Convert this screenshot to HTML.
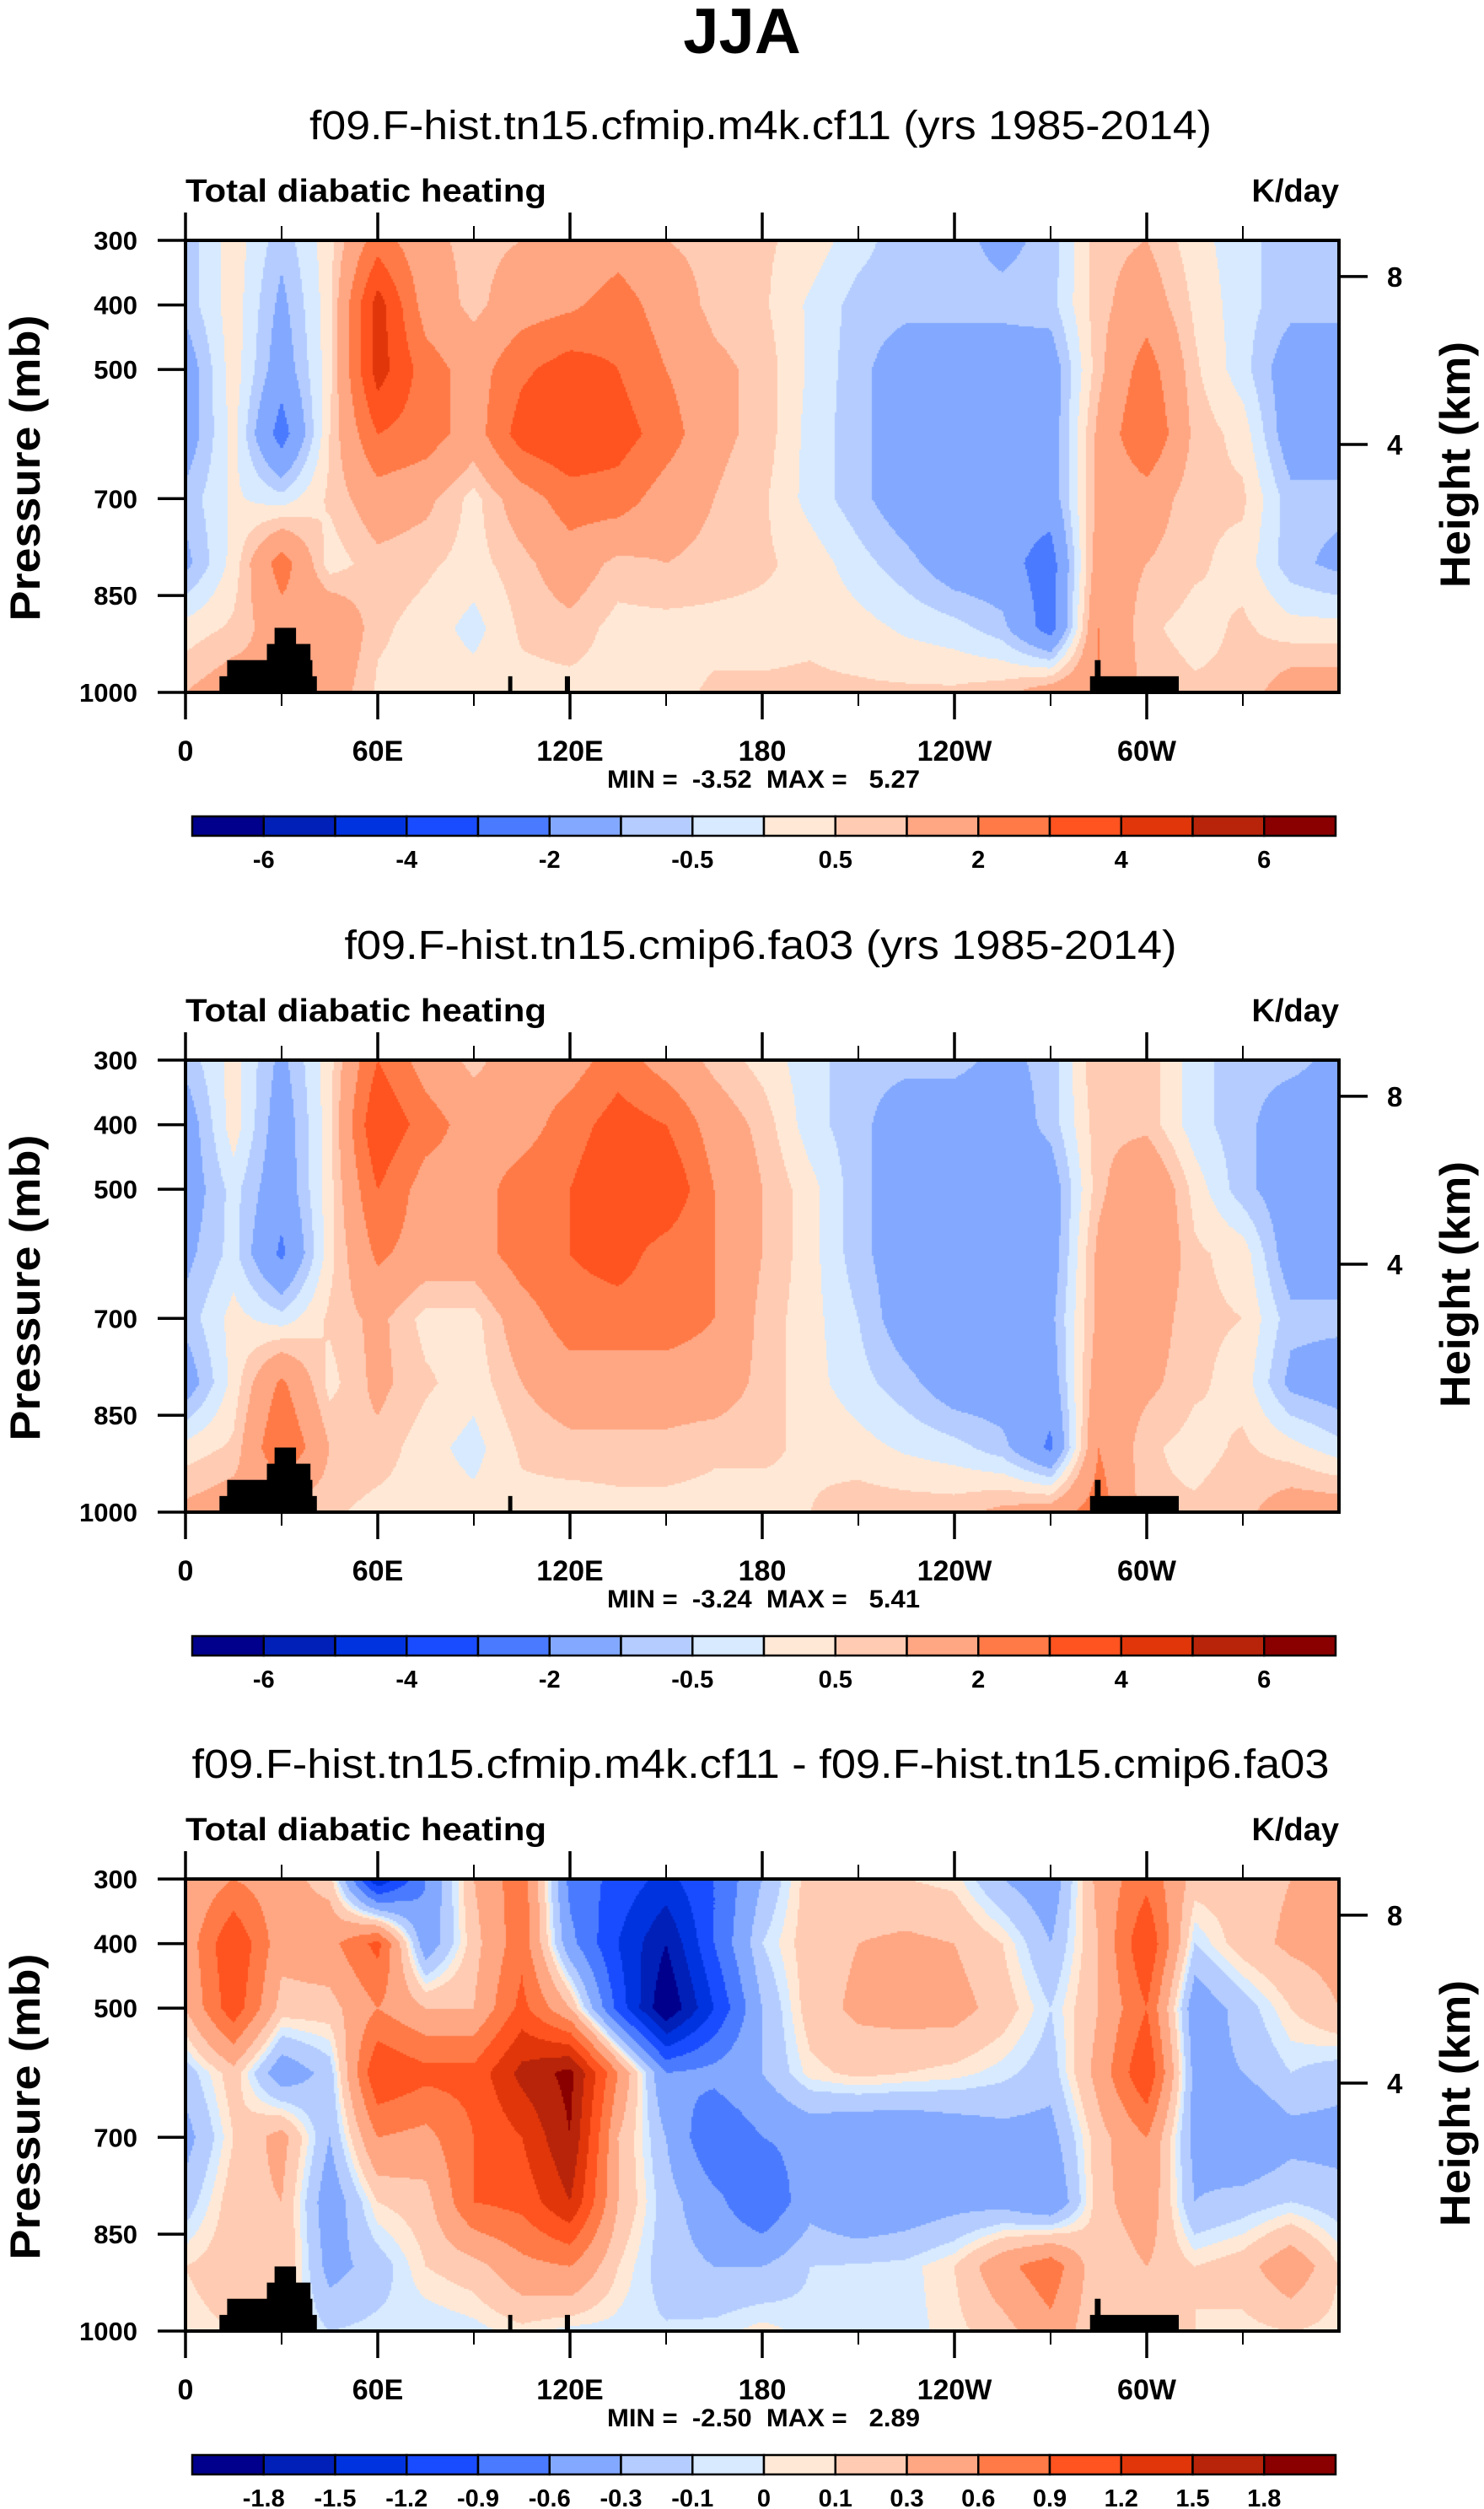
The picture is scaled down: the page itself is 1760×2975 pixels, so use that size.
<!DOCTYPE html>
<html><head><meta charset="utf-8">
<style>
html,body{margin:0;padding:0;background:#fff;}
#wrap{position:relative;width:1760px;height:2975px;overflow:hidden;background:#fff;}
canvas{position:absolute;}
svg{position:absolute;left:0;top:0;}
text{font-family:"Liberation Sans",Arial,sans-serif;fill:#000;}
</style></head>
<body>
<div id="wrap">
<canvas id="c0" width="1368" height="536" style="left:220px;top:285px"></canvas>
<canvas id="c1" width="1368" height="536" style="left:220px;top:1257px"></canvas>
<canvas id="c2" width="1368" height="536" style="left:220px;top:2228px"></canvas>
<svg id="svg" width="1760" height="2975" xmlns="http://www.w3.org/2000/svg">
<text x="880" y="63" text-anchor="middle" font-size="76" font-weight="bold">JJA</text>
</svg>
</div>
<script>
// ---- data ----
const lons = [0,15,30,45,60,75,90,105,120,135,150,165,180,195,210,225,240,255,270,285,300,315,330,345,360];
const levels = [300,400,500,600,700,800,900,1000];
const p1 = [
[-0.8,0.3,-0.8,0.3,2.5,1.2,0.8,1.0,1.0,1.5,1.0,0.8,0.6,0.3,-0.3,-0.8,-0.8,-1.2,-0.8,0.8,1.0,0.2,-0.3,-0.8,-0.8],
[-0.8,0.3,-1.2,0.3,4.5,1.5,0.8,1.5,1.8,2.5,1.5,0.8,0.6,-0.1,-0.7,-0.8,-0.8,-0.8,-0.7,0.8,1.5,0.4,-0.3,-0.8,-0.8],
[-1.5,0.3,-1.5,0.3,4.5,2.5,1.5,2.8,3.5,3.0,2.0,1.2,0.8,-0.1,-0.8,-1.5,-1.5,-1.5,-1.5,0.8,2.5,0.6,-0.3,-1.5,-1.5],
[-1.5,0.2,-2.5,0.5,3.0,2.5,1.5,3.5,4.0,3.5,2.5,1.2,0.8,-0.2,-0.8,-1.5,-1.5,-1.5,-1.5,1.2,3.0,0.8,0.3,-1.5,-1.5],
[-0.8,0.1,-0.3,0.6,1.5,1.2,0.3,1.5,2.5,2.5,1.5,1.0,0.6,-0.2,-0.8,-1.5,-1.5,-1.5,-1.5,1.2,1.5,0.6,0.6,-0.8,-0.8],
[-1.2,0.2,2.5,0.2,0.8,0.6,0.3,0.8,1.5,0.8,1.0,0.8,0.6,0.3,-0.3,-0.8,-1.5,-1.6,-2.5,1.5,1.0,0.6,0.3,-0.8,-1.2],
[0.2,0.6,1.5,2.0,0.6,0.3,-0.2,0.6,0.8,0.3,0.3,0.3,0.3,0.4,0.2,-0.1,-0.3,-0.8,-2.5,2.0,0.6,0.3,0.6,0.2,0.2],
[1.0,1.5,1.0,1.5,0.4,0.3,0.3,0.3,0.3,0.3,0.3,0.6,0.6,0.6,0.6,0.6,0.6,0.8,1.5,2.0,0.8,0.6,0.6,1.5,1.5]];
const p2 = [
[-0.8,0.2,-1.2,0.3,3.0,1.5,0.8,1.5,1.5,2.5,1.5,0.8,0.3,-0.3,-0.8,-0.8,-0.8,-1.2,-0.8,1.0,0.8,-0.3,-0.8,-0.8,-1.2],
[-1.5,0.3,-1.5,0.3,4.0,2.5,1.5,1.5,2.5,3.5,3.0,1.5,0.8,-0.3,-0.8,-1.5,-1.5,-1.5,-0.8,0.8,0.8,-0.3,-0.8,-1.5,-1.5],
[-1.5,-0.3,-1.6,0.3,3.0,1.5,1.5,2.5,3.0,4.0,4.0,2.0,1.0,0.2,-0.8,-1.5,-1.5,-1.5,-1.5,0.8,2.0,0.3,-0.8,-1.5,-1.5],
[-1.2,-0.3,-2.2,0.3,2.2,1.5,1.5,2.5,3.0,3.5,2.5,2.0,1.0,0.2,-0.8,-1.5,-1.5,-1.5,-1.5,1.2,2.0,0.6,0.3,-1.5,-1.5],
[-0.8,0.2,-0.3,0.6,1.2,0.3,0.3,1.5,2.5,2.5,2.5,2.0,0.8,0.2,-0.5,-1.5,-1.5,-1.5,-1.2,1.2,1.5,0.6,0.5,-0.8,-0.8],
[-1.5,0.2,2.2,0.3,1.2,0.6,0.2,1.0,1.5,1.5,1.5,1.5,0.8,0.2,-0.3,-0.8,-1.5,-1.5,-1.5,1.5,1.2,0.6,0.3,-1.2,-1.5],
[0.2,0.6,3.0,1.0,0.8,0.2,-0.2,0.6,0.8,0.8,0.8,0.6,0.6,0.4,0.2,-0.1,-0.3,-0.8,-2.2,2.0,0.6,0.3,0.6,0.2,-0.3],
[1.2,1.5,0.6,0.6,0.3,0.3,0.2,0.3,0.2,0.3,0.3,0.3,0.3,0.5,0.8,0.8,0.8,1.2,1.5,2.5,0.6,0.6,0.8,1.5,1.5]];
const p3 = [
[0.3,0.6,0.4,0.2,-1.5,-0.6,0.3,0.8,-0.7,-1.0,-1.3,-0.9,-0.3,0.2,0.15,0.1,0.05,-0.3,-0.5,0.4,0.8,0.2,0.2,0.3,0.3],
[0.4,1.2,0.4,0.5,1.0,-0.5,0.2,0.8,-0.5,-1.2,-1.8,-0.9,-0.1,0.2,0.3,0.35,0.3,0.1,-0.3,0.3,1.2,-0.1,0.2,0.35,0.4],
[0.3,1.1,0.2,0.2,0.6,0.3,0.3,1.0,0.3,-1.0,-2.1,-1.2,-0.3,0.2,0.35,0.4,0.4,0.2,-0.1,0.3,0.9,-0.5,-0.2,0.1,0.3],
[-0.2,0.2,-0.5,-0.2,1.2,1.0,1.0,1.6,1.9,0.6,-0.6,-0.5,-0.3,0.05,0.15,0.1,0.05,-0.05,-0.2,0.4,1.2,-0.4,-0.3,-0.1,-0.2],
[-0.4,0.1,0.4,-0.3,0.6,0.5,0.9,1.2,1.8,0.3,-0.3,-0.9,-0.6,-0.5,-0.6,-0.6,-0.5,-0.4,-0.4,0.2,0.6,-0.4,-0.6,-0.4,-0.4],
[-0.2,0.2,0.3,-0.5,0.1,0.2,0.9,1.0,1.5,0.3,-0.2,-0.5,-0.9,-0.4,-0.6,-0.5,-0.4,-0.4,-0.6,0.2,0.5,-0.3,-0.2,-0.1,-0.2],
[0.1,0.2,0.3,-0.4,-0.2,0.1,0.2,0.5,0.6,0.1,-0.2,-0.3,-0.3,-0.1,-0.08,-0.05,0.1,0.5,0.8,0.1,0.3,0.1,0.2,0.5,0.1],
[0.05,0.1,0.1,-0.1,-0.05,-0.1,-0.05,0.05,-0.05,-0.05,-0.08,-0.05,0.05,-0.05,-0.05,-0.05,0.05,0.2,0.5,0.1,0.2,0.1,0.05,0.1,0.05]];
const bounds12 = [-6,-5,-4,-3,-2,-1,-0.5,0,0.5,1,2,3,4,5,6];
const bounds3 = [-1.8,-1.5,-1.2,-0.9,-0.6,-0.3,-0.1,0,0.1,0.3,0.6,0.9,1.2,1.5,1.8];
const cbLabels12 = ["","-6","","-4","","-2","","-0.5","","0.5","","2","","4","","6"];
const cbLabels3 = ["","-1.8","-1.5","-1.2","-0.9","-0.6","-0.3","-0.1","0","0.1","0.3","0.6","0.9","1.2","1.5","1.8"];
const palette = ["#00008c","#0020b8","#0033e0","#1a4cff","#4a7aff","#82a8ff","#b4ccff","#d7eaff","#ffe9d6","#ffcbb2","#ffa683","#ff7a46","#ff5320","#e0360a","#b8240a","#8a0000"];
const lonTicks = [0,60,120,180,240,300];
const lonTickLabels = ["0","60E","120E","180","120W","60W"];
const lonMinor = [30,90,150,210,270,330];
const pTicks = [300,400,500,700,850,1000];
const hTicks = [8,4];
const hTickP = [356,616];
// topography blocks: [lonStart, lonEnd, pTop]
const topoLon0 = [10.6,13,25.4,27.8,100.7,118.4,282.3,283.8];
const topoLon1 = [41,39.6,39,34.5,102,120,310,285.6];
const topoP = [975,950,925,900,975,975,975,950];
const subtitles = ["f09.F-hist.tn15.cfmip.m4k.cf11 (yrs 1985-2014)","f09.F-hist.tn15.cmip6.fa03 (yrs 1985-2014)","f09.F-hist.tn15.cfmip.m4k.cf11 - f09.F-hist.tn15.cmip6.fa03"];
const subtitleWidths = [1070,987,1349];
const minVals = ["-3.52","-3.24","-2.50"];
const maxVals = ["5.27","5.41","2.89"];

// ---- geometry ----
const X0=220, X1=1588, PH=536;
const offs=[0,972,1943];
function xOf(lon){return X0+lon/360*(X1-X0);}
function yOf(p,off){return 285+off+(p-300)/700*PH;}
const NS='http://www.w3.org/2000/svg';
const svg=document.getElementById('svg');
function mk(tag,attrs,parent){const e=document.createElementNS(NS,tag);for(const k in attrs)e.setAttribute(k,attrs[k]);(parent||svg).appendChild(e);return e;}

function field(grid,lon,p){
  let i=Math.min(lons.length-2,Math.floor(lon/15)); let fx=(lon-lons[i])/15;
  let j=0; while(j<levels.length-2 && p>levels[j+1]) j++;
  let fy=(p-levels[j])/(levels[j+1]-levels[j]);
  const a=grid[j][i],b=grid[j][i+1],c=grid[j+1][i],d=grid[j+1][i+1];
  return (a*(1-fx)+b*fx)*(1-fy)+(c*(1-fx)+d*fx)*fy;
}
function colorIdx(v,b){let k=0;while(k<b.length&&v>=b[k])k++;return k;}

const grids=[p1,p2,p3];
[0,1,2].forEach(pi=>{
  const cv=document.getElementById('c'+pi), ctx=cv.getContext('2d');
  const g=grids[pi], b=pi<2?bounds12:bounds3;
  const W=cv.width,H=cv.height, s=2;
  for(let y=0;y<H;y+=s){for(let x=0;x<W;x+=s){
    const lon=(x+s/2)/W*360, p=300+(y+s/2)/H*700;
    ctx.fillStyle=palette[colorIdx(field(g,lon,p),b)];
    ctx.fillRect(x,y,s,s);
  }}
});

[0,1,2].forEach(pi=>{
  const off=offs[pi];
  const t=mk('text',{x:902,y:165+off,'text-anchor':'middle','font-size':48,textLength:subtitleWidths[pi],lengthAdjust:'spacingAndGlyphs'});
  t.textContent=subtitles[pi];
  
  
  const l=mk('text',{x:220,y:239+off,'font-size':38,'font-weight':'bold',textLength:428,lengthAdjust:'spacingAndGlyphs'});
  l.textContent='Total diabatic heating';
  
  
  const u=mk('text',{x:1588,y:239+off,'text-anchor':'end','font-size':38,'font-weight':'bold'});
  u.textContent='K/day';
  
  
  // topography
  for(let k=0;k<topoP.length;k++){
    if(pi===1 && k===5) continue;
    const r=mk('rect',{x:xOf(topoLon0[k]),y:yOf(topoP[k],off),width:xOf(topoLon1[k])-xOf(topoLon0[k]),height:yOf(1000,off)-yOf(topoP[k],off),fill:'#000'});
    
    
  }
  // frame
  const f=mk('rect',{x:X0,y:yOf(300,off),width:X1-X0,height:PH,fill:'none',stroke:'#000','stroke-width':4});
  
  
  // lon ticks
  lonTicks.forEach((lon,k)=>{
    const x=xOf(lon);
    const a=mk('line',{x1:x,x2:x,y1:yOf(300,off)-33,y2:yOf(300,off),stroke:'#000','stroke-width':3.5});
    
    
    const c=mk('line',{x1:x,x2:x,y1:yOf(1000,off),y2:yOf(1000,off)+32,stroke:'#000','stroke-width':3.5});
    
    
    const tx=mk('text',{x:x,y:902+off,'text-anchor':'middle','font-size':34,'font-weight':'bold'});
    tx.textContent=lonTickLabels[k];
    
    
  });
  lonMinor.forEach(lon=>{
    const x=xOf(lon);
    const a=mk('line',{x1:x,x2:x,y1:yOf(300,off)-17,y2:yOf(300,off),stroke:'#000','stroke-width':2});
    
    
    const c=mk('line',{x1:x,x2:x,y1:yOf(1000,off),y2:yOf(1000,off)+16,stroke:'#000','stroke-width':2});
    
    
  });
  pTicks.forEach(p=>{
    const y=yOf(p,off);
    const a=mk('line',{x1:187,x2:X0,y1:y,y2:y,stroke:'#000','stroke-width':3.5});
    
    
    const tx=mk('text',{x:163,y:y+11,'text-anchor':'end','font-size':31,'font-weight':'bold'});
    tx.textContent=String(p);
    
    
  });
  hTicks.forEach((h,k)=>{
    const y=yOf(hTickP[k],off);
    const a=mk('line',{x1:X1,x2:1622,y1:y,y2:y,stroke:'#000','stroke-width':3.5});
    
    
    const tx=mk('text',{x:1645,y:y+12,'font-size':33,'font-weight':'bold'});
    tx.textContent=String(h);
    
    
  });
  const yl=mk('text',{x:0,y:0,'text-anchor':'middle','font-size':50,'font-weight':'bold',textLength:363,lengthAdjust:'spacingAndGlyphs',transform:`translate(47,${555+off}) rotate(-90)`});
  yl.textContent='Pressure (mb)';
  
  
  const hl=mk('text',{x:0,y:0,'text-anchor':'middle','font-size':50,'font-weight':'bold',textLength:292,lengthAdjust:'spacingAndGlyphs',transform:`translate(1743,${551+off}) rotate(-90)`});
  hl.textContent='Height (km)';
  
  
  const mm=mk('text',{x:720,y:934+off,'font-size':30,'font-weight':'bold',textLength:371,lengthAdjust:'spacingAndGlyphs',style:'white-space:pre'});
  mm.textContent='MIN =  '+minVals[pi]+'  MAX =   '+maxVals[pi];
  
  
  // colorbar
  const cx0=228,cx1=1584,cw=(cx1-cx0)/16,cy=968+off,ch=23;
  const labs=pi<2?cbLabels12:cbLabels3;
  for(let k=0;k<16;k++){
    const r=mk('rect',{x:cx0+k*cw,y:cy,width:cw,height:ch,fill:palette[k],stroke:'#000','stroke-width':2.5});
    
    
    if(labs[k]){
      const tx=mk('text',{x:cx0+k*cw,y:1029+off,'text-anchor':'middle','font-size':29,'font-weight':'bold'});
      tx.textContent=labs[k];
      
      
    }
  }
});
</script>
</body></html>
